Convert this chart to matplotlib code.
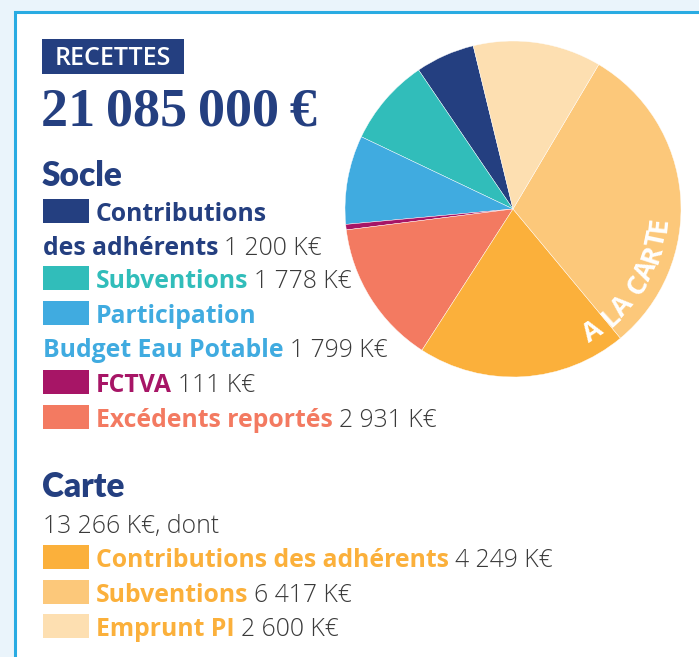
import numpy as np
import matplotlib.pyplot as plt
from matplotlib.patches import Rectangle

W, H = 699, 657

total_label = "21\u2009085\u2009000\u2009€"

socle_labels = ["Contributions\ndes adhérents", "Subventions", "Participation\nBudget Eau Potable", "FCTVA", "Excédents reportés"]
socle_values = [1200, 1778, 1799, 111, 2931]
socle_colors = ["#243F80", "#31BDBA", "#40ABE0", "#A71566", "#F37A61"]

carte_labels = ["Contributions des adhérents", "Subventions", "Emprunt PI"]
carte_values = [4249, 6417, 2600]
carte_colors = ["#FBB03B", "#FCC87A", "#FDDFB1"]
carte_text_color = "#FBB03B"

NAVY = "#243F80"
GREY = "#3A3A3A"


def keur(v):
    s = f"{v:,}".replace(",", " ")
    return s + " K€"


fig = plt.figure(figsize=(W / 100, H / 100), dpi=100)
fig.patch.set_facecolor("#EAF4FB")
ax = fig.add_axes([0, 0, 1, 1])

# frame
ax.add_patch(Rectangle((15, 12), W, H, facecolor="white", edgecolor="#29ABE2", lw=2.2, zorder=0))

# pie
values = socle_values + carte_values
colors = socle_colors + carte_colors
cx, cy, R = 513, 209, 168
ax.pie(values, colors=colors, startangle=-103.7, counterclock=False, center=(cx, cy), radius=R,
       frame=True, wedgeprops=dict(edgecolor="white", linewidth=0.3))
ax.set_xlim(0, W)
ax.set_ylim(H, 0)
ax.set_aspect("auto")
ax.axis("off")

# curved text on the pie
arc_text = "A LA CARTE"
widths = {"A": 0.68, "L": 0.52, "C": 0.62, "R": 0.62, "T": 0.55, "E": 0.53, " ": 0.28}
fs_arc = 19.5
em = fs_arc * 100 / 72
r_txt = 147
pos = 0.0
phi0 = -57.0
for i, ch in enumerate(arc_text):
    w = widths[ch] * em
    if i > 0:
        pos += (widths[arc_text[i - 1]] * em + w) / 2
    phi = phi0 + np.degrees(pos / r_txt)
    if ch == " ":
        continue
    x = cx + r_txt * np.cos(np.radians(phi))
    y = cy - r_txt * np.sin(np.radians(phi))
    ax.text(x, y, ch, rotation=phi + 90, ha="center", va="center", color="white",
            fontsize=fs_arc, fontweight="bold", family="Open Sans", rotation_mode="anchor")

# header
ax.add_patch(Rectangle((42, 39), 142, 35, facecolor=NAVY, edgecolor="none"))
ax.text(113, 65, "RECETTES", color="white", fontsize=18, family="Open Sans", fontweight="semibold",
        ha="center", va="baseline")
ax.text(41, 126, total_label, color=NAVY, fontsize=39, family=["Liberation Serif", "DejaVu Serif"],
        fontweight="bold", va="baseline")

renderer = fig.canvas.get_renderer()
FS = 17.8


def label_value(x, y, label, value, color):
    t = ax.text(x, y, label, color=color, fontsize=FS, family="Open Sans", fontweight="bold", va="baseline")
    bb = t.get_window_extent(renderer)
    ax.text(bb.x1 + 6, y, value, color=GREY, fontsize=FS, family="Open Sans", fontweight="light", va="baseline")


def swatch(y, color):
    ax.add_patch(Rectangle((43, y - 22), 46, 24, facecolor=color, edgecolor="none"))


# Socle
ax.text(42, 186, "Socle", color=NAVY, fontsize=24, family="Lato", fontweight="heavy", va="baseline")
socle_base = [221, 288, 323, 392, 427]
for lab, v, c, yb in zip(socle_labels, socle_values, socle_colors, socle_base):
    swatch(yb, c)
    parts = lab.split("\n")
    if len(parts) == 2:
        ax.text(96, yb, parts[0], color=c, fontsize=FS, family="Open Sans", fontweight="bold", va="baseline")
        label_value(43, yb + 34, parts[1], keur(v), c)
    else:
        label_value(96, yb, parts[0], keur(v), c)

# Carte
ax.text(42, 497, "Carte", color=NAVY, fontsize=24, family="Lato", fontweight="heavy", va="baseline")
ax.text(43, 533, keur(sum(carte_values)) + ", dont", color=GREY, fontsize=FS, family="Open Sans",
        fontweight="light", va="baseline")
carte_base = [567, 602, 636]
for lab, v, c, yb in zip(carte_labels, carte_values, carte_colors, carte_base):
    swatch(yb, c)
    label_value(96, yb, lab, keur(v), carte_text_color)

fig.savefig("out.png", dpi=100, facecolor=fig.get_facecolor())
